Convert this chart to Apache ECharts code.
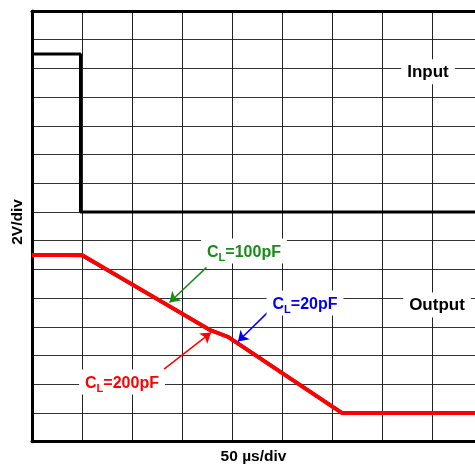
<!DOCTYPE html>
<html><head><meta charset="utf-8">
<script src="https://cdn.jsdelivr.net/npm/echarts@6/dist/echarts.min.js"></script>
<style>html,body{margin:0;padding:0;background:#fff}#c{width:475px;height:465px}</style>
</head><body><div id="c"></div>
<script>
// Data in divisions (x: 50 µs/div, y: 2 V/div)
const inputX = [0, 0.97, 0.97, 10];
const inputY = [13.5, 13.5, 8, 8];
const out200X = [0, 1, 3.56, 3.92, 6.2, 10];
const out200Y = [6.5, 6.5, 3.89, 3.65, 1, 1];
const out100X = [0, 1, 3.56, 3.92, 6.2, 10];
const out100Y = [6.5, 6.5, 3.87, 3.64, 1, 1];
const out20X = [0, 1, 3.56, 3.92, 6.2, 10];
const out20Y = [6.5, 6.48, 3.9, 3.66, 1, 1];
// visible window of the screen (cropped at right)
const xMin = 0, xMax = 8.86, yMin = 0, yMax = 15;

// annotation arrows [fromX, fromY, toX, toY] and label anchors
const arrowGreen = [3.49, 6.07, 2.75, 4.85];
const arrowBlue = [4.73, 4.53, 4.12, 3.49];
const arrowRed = [2.64, 2.53, 3.58, 3.80];
const labelInput = [7.92, 12.88];
const labelOutput = [8.1, 4.76];
const label100 = [4.24, 6.64];
const label20 = [5.46, 4.83];
const label200 = [1.8, 2.08];

const zip = (xs, ys) => xs.map((x, i) => [x, ys[i]]);
const FONT = '"Liberation Sans", Arial, sans-serif';
const GREEN = '#178c17', BLUE = '#0000ee', RED = '#ff0000';

const chart = echarts.init(document.getElementById('c'), null, {renderer: 'canvas'});
const axisCommon = {type: 'value', axisTick: {show: false}, axisLabel: {show: false}};
chart.setOption({
  animation: false,
  backgroundColor: '#fff',
  grid: {left: 32, top: 11, right: 0, height: 430.7, show: false},
  xAxis: [
    Object.assign({}, axisCommon, {min: xMin, max: xMax, interval: 1, position: 'bottom',
      axisLine: {show: true, onZero: false, lineStyle: {color: '#000', width: 3}},
      splitLine: {show: true, lineStyle: {color: '#222', width: 1}}}),
    Object.assign({}, axisCommon, {min: xMin, max: xMax, interval: 1, position: 'top',
      axisLine: {show: true, onZero: false, lineStyle: {color: '#000', width: 3}},
      splitLine: {show: false}})
  ],
  yAxis: Object.assign({}, axisCommon, {min: yMin, max: yMax, interval: 1,
    axisLine: {show: true, onZero: false, lineStyle: {color: '#000', width: 3}},
    splitLine: {show: true, lineStyle: {color: '#333', width: 1}}}),
  series: [
    {type: 'line', data: zip(inputX, inputY), symbol: 'none', lineStyle: {color: '#000', width: 3}, z: 3},
    {type: 'line', data: zip(out20X, out20Y), symbol: 'none', lineStyle: {color: BLUE, width: 3}, z: 3},
    {type: 'line', data: zip(out100X, out100Y), symbol: 'none', lineStyle: {color: GREEN, width: 3}, z: 3},
    {type: 'line', data: zip(out200X, out200Y), symbol: 'none', lineStyle: {color: RED, width: 4}, z: 4},
    {type: 'lines', coordinateSystem: 'cartesian2d', z: 6, symbol: ['none', 'arrow'], symbolSize: 10,
      data: [
        {coords: [[arrowGreen[0], arrowGreen[1]], [arrowGreen[2], arrowGreen[3]]], lineStyle: {color: GREEN, width: 1.5, opacity: 1}},
        {coords: [[arrowBlue[0], arrowBlue[1]], [arrowBlue[2], arrowBlue[3]]], lineStyle: {color: BLUE, width: 1.5, opacity: 1}},
        {coords: [[arrowRed[0], arrowRed[1]], [arrowRed[2], arrowRed[3]]], lineStyle: {color: RED, width: 1.5, opacity: 1}}
      ]}
  ]
});

function px(p) { return chart.convertToPixel({gridIndex: 0}, p); }
function plainText(p, txt, color, size) {
  const q = px(p);
  return {type: 'text', x: q[0], y: q[1], z: 10,
    style: {text: txt, fill: color, font: 'bold ' + size + 'px ' + FONT, align: 'center', verticalAlign: 'middle',
      backgroundColor: '#fff', padding: [4, 6, 4, 6]}};
}
function clText(p, val, color) {
  const q = px(p);
  return {type: 'text', x: q[0], y: q[1], z: 10,
    style: {text: '{c|C}{s|L}{c|' + val + '}', align: 'center', verticalAlign: 'middle',
      backgroundColor: '#fff', padding: [3, 6, 3, 6],
      rich: {
        c: {fill: color, font: 'bold 16px ' + FONT, lineHeight: 19, verticalAlign: 'bottom'},
        s: {fill: color, font: 'bold 11px ' + FONT, lineHeight: 12, verticalAlign: 'bottom', padding: [0, 0, -3, 0]}
      }}};
}
chart.setOption({graphic: [
  plainText(labelInput, 'Input', '#000', 17),
  plainText(labelOutput, 'Output', '#000', 17),
  clText(label100, '=100pF', GREEN),
  clText(label20, '=20pF', BLUE),
  clText(label200, '=200pF', RED),
  {type: 'text', x: 18, y: 222, rotation: Math.PI / 2, z: 10,
    style: {text: '2V/div', fill: '#000', font: 'bold 15.5px ' + FONT, align: 'center', verticalAlign: 'middle'}},
  {type: 'text', x: 253.5, y: 457, z: 10,
    style: {text: '50 µs/div', fill: '#000', font: 'bold 15.5px ' + FONT, align: 'center', verticalAlign: 'middle'}}
]});
</script></body></html>
